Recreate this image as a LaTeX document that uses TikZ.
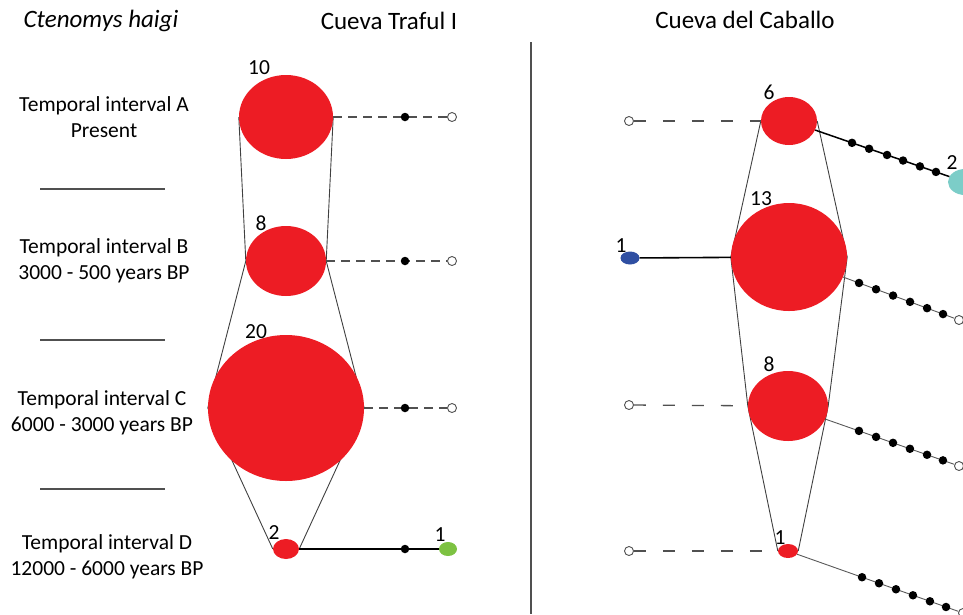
\documentclass[tikz,border=0pt]{standalone}
\usepackage{fontspec}
\setmainfont{Carlito}
\usetikzlibrary{positioning,shapes.geometric,calc,backgrounds}

\definecolor{popred}{HTML}{ED1C24}
\definecolor{hapgreen}{HTML}{7DC242}
\definecolor{hapblue}{HTML}{2F4FA2}
\definecolor{hapcyan}{HTML}{7CCDC8}
\definecolor{linegray}{HTML}{505050}

\begin{document}
\begin{tikzpicture}[x=1pt, y=-1pt,
  font=\fontsize{21.5}{26}\selectfont,
  pop/.style={ellipse, fill=popred, inner sep=0pt},
  hap/.style={ellipse, inner sep=0pt},
  num/.style={inner sep=0pt},
  ttl/.style={inner sep=0pt, font=\fontsize{25}{30}\selectfont},
  lbl/.style={align=center, inner sep=0pt},
  sdot/.style={circle, fill=black, inner sep=0pt, minimum size=8.5pt},
  opn/.style={circle, draw=linegray, fill=white, line width=0.9pt, inner sep=0pt, minimum size=9pt},
  side/.style={draw=gray!70!black, line width=0.9pt},
  dsh/.style={draw=linegray, line width=1.3pt, dash pattern=on 9pt off 6pt},
  ldsh/.style={draw=linegray, line width=1.3pt, dash pattern=on 12pt off 17pt},
  thin/.style={draw=black!75, line width=0.9pt}]
\useasboundingbox (0,0) rectangle (963,614);
\clip (0,0) rectangle (963,614);

% headings
\node[ttl, font=\fontsize{25}{30}\selectfont\itshape] (sp) at (101,21) {Ctenomys haigi};
\node[ttl] (trf) at (389,21) {Cueva Traful I};
\node[ttl] (cab) at (745,20) {Cueva del Caballo};
\draw[linegray, line width=1.2pt] (531,42) -- (531,614);

% interval labels
\node[lbl] (iA) at (104,117) {Temporal interval A\\Present};
\node[lbl] (iB) at (104,261) {Temporal interval B\\3000 - 500 years BP};
\node[lbl] (iC) at (102,413) {Temporal interval C\\6000 - 3000 years BP};
\node[lbl] (iD) at (107,557) {Temporal interval D\\12000 - 6000 years BP};
\foreach \y in {189,340,489}
  \draw[linegray, line width=1.2pt] (40,\y) -- (165,\y);

% Cueva Traful I
\node[pop, minimum width=94pt, minimum height=84pt] (tA) at (286,117) {};
\node[pop, minimum width=80pt, minimum height=70pt] (tB) at (286,261) {};
\node[pop, minimum width=156pt, minimum height=146pt] (tC) at (286,408) {};
\node[pop, minimum width=26pt, minimum height=20pt] (tD) at (286,549) {};
\node[hap, fill=hapgreen, minimum width=18pt, minimum height=14pt] (gr) at (448,549) {};
\node[num] (ntA) at (259,68) {10};
\node[num] (ntB) at (261,223) {8};
\node[num] (ntC) at (256,332) {20};
\node[num] (ntD) at (274,533) {2};
\node[num] (ngr) at (440,535) {1};
\begin{scope}[on background layer]
\draw[thin] (tA.west) -- (tB.west) -- (tC.west) -- (tD.west);
\draw[thin] (tA.east) -- (tB.east) -- (tC.east) -- (tD.east);
\end{scope}
\node[opn] (oA) at (452,117) {};
\node[opn] (oB) at (452,261) {};
\node[opn] (oC) at (452,408) {};
\draw[dsh] (tA) -- (oA);
\draw[dsh] (tB) -- (oB);
\draw[dsh] (tC) -- (oC);
\draw[black, line width=1.6pt] (tD) -- (gr);
\node[sdot] (dtA) at (405,117) {};
\node[sdot] (dtB) at (405,261) {};
\node[sdot] (dtC) at (405,408) {};
\node[sdot] (dtD) at (405,549) {};

% Cueva del Caballo
\node[pop, minimum width=56pt, minimum height=48pt] (cA) at (789,121) {};
\node[pop, minimum width=116pt, minimum height=108pt] (cB) at (789,257) {};
\node[pop, minimum width=80pt, minimum height=70pt] (cC) at (788,406) {};
\node[pop, minimum width=20pt, minimum height=14pt] (cD) at (788,551) {};
\node[hap, fill=hapblue, minimum width=19pt, minimum height=13pt] (bl) at (630,258) {};
\node[hap, fill=hapcyan, minimum width=34pt, minimum height=26pt] (cy) at (965,182) {};
\node[num] (ncA) at (769,92) {6};
\node[num] (ncB) at (761,199) {13};
\node[num] (ncC) at (769,364) {8};
\node[num] (ncD) at (780,538) {1};
\node[num] (nbl) at (621,246) {1};
\node[num] (ncy) at (952,163) {2};
\begin{scope}[on background layer]
\draw[thin] (cA.west) -- (cB.west) -- (cC.west) -- (cD.west);
\draw[thin] (cA.east) -- (cB.east) -- (cC.east) -- (cD.east);
\end{scope}
\node[opn] (lA) at (629,121) {};
\node[opn] (lC) at (629,405) {};
\node[opn] (lD) at (629,551) {};
\draw[ldsh] (lA) -- (cA);
\draw[ldsh] (lC) -- (cC);
\draw[ldsh] (lD) -- (cD);
\draw[black, line width=1.6pt] (bl) -- (cB);
\node[opn] (rB) at (959,320) {};
\node[opn] (rC) at (959,466) {};
\node[opn] (rD) at (963,613) {};
\draw[black, line width=1.5pt] (cA) -- (cy);
\draw[side] (cB) -- (rB);
\draw[side] (cC) -- (rC);
\draw[side] (cD) -- (rD);
\foreach \f [count=\i] in {0.358,0.455,0.557,0.648,0.744,0.835}
  \node[sdot] (dcA\i) at ($(cA)!\f!(cy)$) {};
\foreach \f [count=\i] in {0.412,0.512,0.612,0.712,0.812,0.906}
  \node[sdot] (dcB\i) at ($(cB)!\f!(rB)$) {};
\foreach \f [count=\i] in {0.415,0.515,0.614,0.713,0.813,0.906}
  \node[sdot] (dcC\i) at ($(cC)!\f!(rC)$) {};
\foreach \f [count=\i] in {0.423,0.52,0.617,0.714,0.811,0.903}
  \node[sdot] (dcD\i) at ($(cD)!\f!(rD)$) {};
\end{tikzpicture}
\end{document}
